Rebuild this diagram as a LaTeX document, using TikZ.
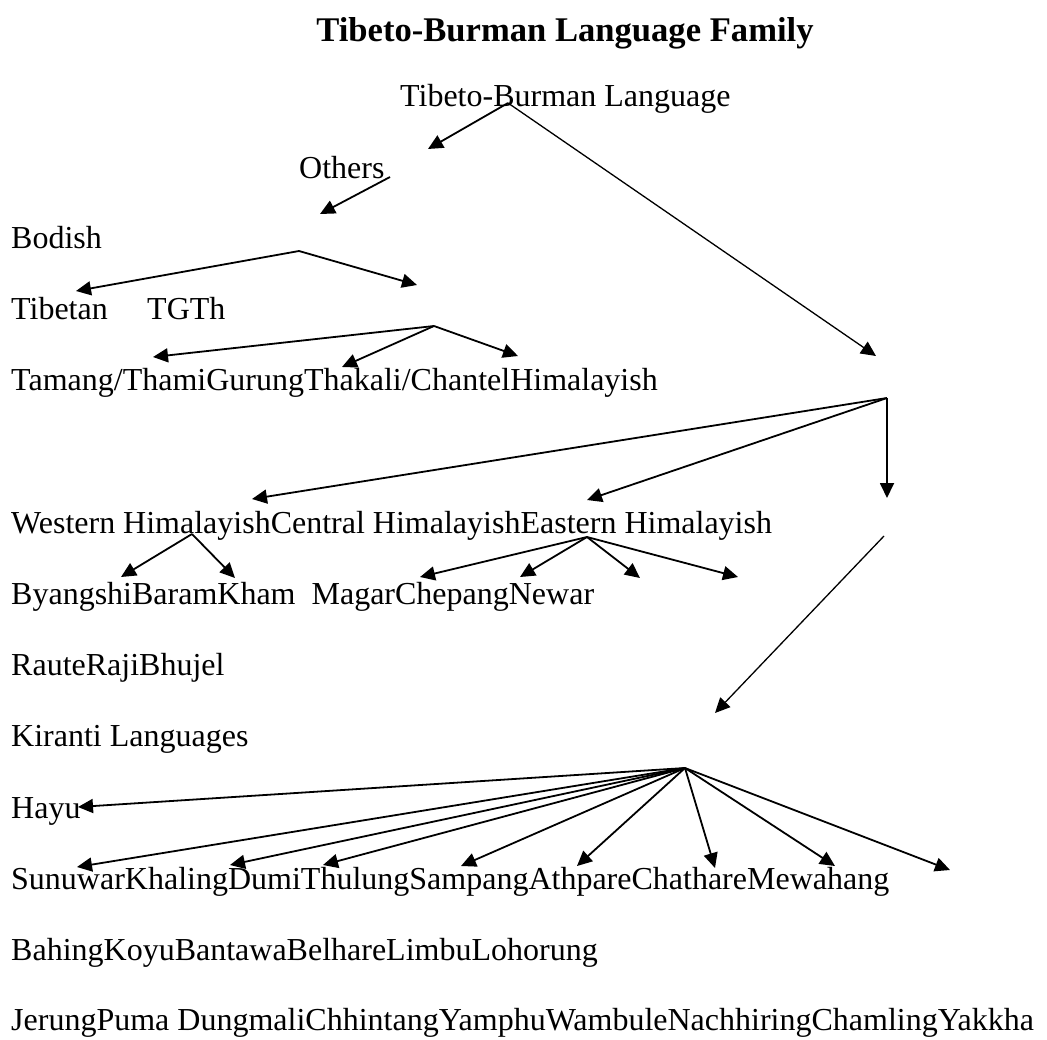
\documentclass[tikz,border=0pt]{standalone}
\usepackage{fontspec}
\setmainfont{Liberation Serif}
\usetikzlibrary{arrows.meta}
\begin{document}
\begin{tikzpicture}[x=1pt,y=-1pt,
  lbl/.style={anchor=base west, inner sep=0pt, font=\fontsize{32}{38}\selectfont},
  heading/.style={anchor=base, inner sep=0pt, font=\fontsize{34.6}{40}\selectfont\bfseries},
  link/.style={line width=1.8pt, line join=round, -{Triangle[length=15pt,width=14pt]}},
  thinlink/.style={link, line width=1.3pt}]
\useasboundingbox[fill=white] (0,0) rectangle (1047,1039);

% heading
\node[heading] (title) at (565,41) {Tibeto-Burman Language Family};

% text lines
\node[lbl] (tb)      at (400,106)  {Tibeto-Burman Language};
\node[lbl] (others)  at (299,178)  {Others};
\node[lbl] (bodish)  at (11,248)   {Bodish};
\node[lbl] (tibetan) at (11,319)   {Tibetan};
\node[lbl] (tgth)    at (147,319)  {TGTh};
\node[lbl] (tamang)  at (11,390)   {Tamang/ThamiGurungThakali/ChantelHimalayish};
\node[lbl] (himal)   at (11,533)   {Western HimalayishCentral HimalayishEastern Himalayish};
\node[lbl] (byang)   at (11,604)   {ByangshiBaramKham\ \ MagarChepangNewar};
\node[lbl] (raute)   at (11,675)   {RauteRajiBhujel};
\node[lbl] (kiranti) at (11,746)   {Kiranti Languages};
\node[lbl] (hayu)    at (11,818)   {Hayu};
\node[lbl] (sunuwar) at (11,889)   {SunuwarKhalingDumiThulungSampangAthpareChathareMewahang};
\node[lbl] (bahing)  at (11,960)   {BahingKoyuBantawaBelhareLimbuLohorung};
\node[lbl] (jerung)  at (11,1030)  {JerungPuma DungmaliChhintangYamphuWambuleNachhiringChamlingYakkha};

% branch points and arrow ends
\coordinate (tbA)   at (508,103);
\coordinate (tbL)   at (428,149);
\coordinate (tbR)   at (876,356);
\coordinate (othA)  at (390,177);
\coordinate (othT)  at (320,214);
\coordinate (bodA)  at (299,251);
\coordinate (bodL)  at (76,291);
\coordinate (bodR)  at (417,285);
\coordinate (tgA)   at (434,326);
\coordinate (tg1)   at (153,357);
\coordinate (tg2)   at (342,367);
\coordinate (tg3)   at (518,356);
\coordinate (hiA)   at (887,398);
\coordinate (hi1)   at (252,499);
\coordinate (hi2)   at (587,500);
\coordinate (hi3)   at (887,498);
\coordinate (weA)   at (192,534);
\coordinate (we1)   at (121,577);
\coordinate (we2)   at (235,578);
\coordinate (eaA)   at (587,537);
\coordinate (ea1)   at (420,577);
\coordinate (ea2)   at (520,577);
\coordinate (ea3)   at (640,578);
\coordinate (ea4)   at (738,577);
\coordinate (kiS)   at (884,536);
\coordinate (kiT)   at (715,713);
\coordinate (kiA)   at (685,768);
\coordinate (ki1)   at (78,807);
\coordinate (ki2)   at (77,867);
\coordinate (ki3)   at (230,865);
\coordinate (ki4)   at (323,865);
\coordinate (ki5)   at (461,866);
\coordinate (ki6)   at (577,866);
\coordinate (ki7)   at (715,868);
\coordinate (ki8)   at (835,866);
\coordinate (ki9)   at (950,870);

% connectors
\draw[link] (tbA) -- (tbL);
\draw[thinlink] (tbA) -- (tbR);
\draw[link] (othA) -- (othT);
\draw[link] (bodA) -- (bodL);
\draw[link] (bodA) -- (bodR);
\foreach \t in {tg1,tg2,tg3} \draw[link] (tgA) -- (\t);
\foreach \t in {hi1,hi2,hi3} \draw[link] (hiA) -- (\t);
\foreach \t in {we1,we2} \draw[link] (weA) -- (\t);
\foreach \t in {ea1,ea2,ea3,ea4} \draw[link] (eaA) -- (\t);
\draw[thinlink] (kiS) -- (kiT);
\foreach \t in {ki1,ki2,ki3,ki4,ki5,ki6,ki7,ki8,ki9} \draw[link] (kiA) -- (\t);
\end{tikzpicture}
\end{document}
